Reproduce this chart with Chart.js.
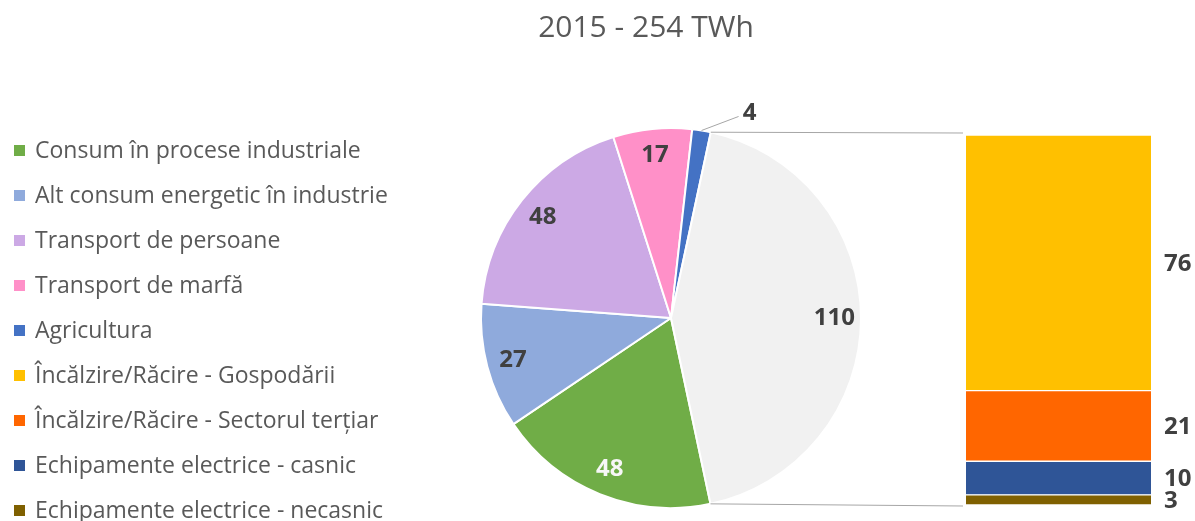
<!DOCTYPE html>
<html>
<head>
<meta charset="utf-8">
<script src="https://cdn.jsdelivr.net/npm/chart.js@4.4.0/dist/chart.umd.min.js"></script>
<style>
  html, body { margin: 0; padding: 0; background: #fff; }
  #wrap { position: relative; width: 1195px; height: 521px; overflow: hidden; font-family: "Open Sans", sans-serif; }
  .layer { position: absolute; left: 0; top: 0; width: 1195px; height: 521px; }
  #title { position: absolute; left: 446px; top: 5px; width: 400px; text-align: center; font-size: 30px; color: #595959; white-space: nowrap; }
  #legend { position: absolute; left: 14px; top: 127px; margin: 0; padding: 0; list-style: none; }
  #legend li { position: relative; height: 45px; line-height: 45px; font-size: 23px; color: #595959; white-space: nowrap; padding-left: 21px; }
  #legend li span { position: absolute; left: 0; top: 18px; width: 11px; height: 11px; }
</style>
</head>
<body>
<div id="wrap">
  <div class="layer"><canvas id="pieChart"></canvas></div>
  <div class="layer"><canvas id="barChart"></canvas></div>
  <div id="title">2015 - 254 TWh</div>
  <ul id="legend"></ul>
</div>
<script>
// pie part
const pieLabels = [
  'Consum în procese industriale',
  'Alt consum energetic în industrie',
  'Transport de persoane',
  'Transport de marfă',
  'Agricultura'
];
const pieValues = [48, 27, 48, 17, 4];
const pieColors = ['#70AD47', '#8FAADC', '#CCA9E5', '#FF90C8', '#4472C4'];

// bar part (split of the grey slice)
const barLabels = [
  'Încălzire/Răcire - Gospodării',
  'Încălzire/Răcire - Sectorul terțiar',
  'Echipamente electrice - casnic',
  'Echipamente electrice - necasnic'
];
const barValues = [76, 21, 10, 3];
const barColors = ['#FFC000', '#FF6600', '#2F5597', '#7F6000'];

const otherColor = '#F1F1F1';
const otherTotal = barValues.reduce((a, b) => a + b, 0);

// legend (html)
const legend = document.getElementById('legend');
pieLabels.concat(barLabels).forEach((lbl, i) => {
  const li = document.createElement('li');
  const sw = document.createElement('span');
  sw.style.background = pieColors.concat(barColors)[i];
  li.appendChild(sw);
  li.appendChild(document.createTextNode(lbl));
  legend.appendChild(li);
});

const labelFont = 'bold 24px "Open Sans"';
const labelDark = '#404040';
const lineColor = '#A6A6A6';

const pieLabelPlugin = {
  id: 'pieLabels',
  afterDatasetsDraw(chart) {
    const ctx = chart.ctx;
    const arcs = chart.getDatasetMeta(0).data;
    const vals = chart.data.datasets[0].data;
    ctx.save();
    ctx.font = labelFont;
    ctx.textAlign = 'center';
    ctx.textBaseline = 'middle';
    arcs.forEach((arc, i) => {
      const mid = (arc.startAngle + arc.endAngle) / 2;
      const v = vals[i];
      if (v < 10) {
        // small slice: label outside with leader line
        const x0 = arc.x + Math.cos(mid) * arc.outerRadius;
        const y0 = arc.y + Math.sin(mid) * arc.outerRadius;
        ctx.strokeStyle = lineColor;
        ctx.lineWidth = 1;
        ctx.beginPath();
        ctx.moveTo(x0, y0);
        ctx.lineTo(x0 + 37, y0 - 14);
        ctx.stroke();
        ctx.fillStyle = labelDark;
        ctx.fillText(String(v), x0 + 48, y0 - 17);
      } else {
        const r = arc.outerRadius * 0.86;
        ctx.fillStyle = i === 0 ? '#F7F7F7' : labelDark;
        ctx.fillText(String(v), arc.x + Math.cos(mid) * r, arc.y + Math.sin(mid) * r);
      }
    });
    ctx.restore();
  }
};

const pieChart = new Chart(document.getElementById('pieChart'), {
  type: 'pie',
  data: {
    labels: pieLabels.concat(['Altele']),
    datasets: [{
      data: pieValues.concat([otherTotal]),
      backgroundColor: pieColors.concat([otherColor]),
      borderColor: '#ffffff',
      borderWidth: 2
    }]
  },
  options: {
    responsive: true,
    maintainAspectRatio: false,
    animation: false,
    rotation: 168,
    layout: { padding: { left: 480, right: 333, top: 127, bottom: 12 } },
    plugins: { legend: { display: false }, tooltip: { enabled: false } }
  },
  plugins: [pieLabelPlugin]
});

const barPlugin = {
  id: 'barExtras',
  afterDatasetsDraw(chart) {
    const ctx = chart.ctx;
    ctx.save();
    // values to the right of each segment
    ctx.font = labelFont;
    ctx.textAlign = 'left';
    ctx.textBaseline = 'middle';
    ctx.fillStyle = labelDark;
    let top = null, bottom = null, left = null;
    chart.data.datasets.forEach((ds, di) => {
      const bar = chart.getDatasetMeta(di).data[0];
      const mid = (bar.y + bar.base) / 2;
      ctx.fillText(String(ds.data[0]), bar.x + bar.width / 2 + 13, mid + 1);
      left = bar.x - bar.width / 2;
      top = top === null ? bar.y : Math.min(top, bar.y);
      bottom = bottom === null ? bar.base : Math.max(bottom, bar.base);
    });
    // connectors from the grey slice to the bar
    const other = pieChart.getDatasetMeta(0).data[pieValues.length];
    const R = other.outerRadius;
    ctx.strokeStyle = lineColor;
    ctx.lineWidth = 1;
    ctx.beginPath();
    ctx.moveTo(other.x + Math.cos(other.startAngle) * R, other.y + Math.sin(other.startAngle) * R);
    ctx.lineTo(left - 3, top - 2);
    ctx.moveTo(other.x + Math.cos(other.endAngle) * R, other.y + Math.sin(other.endAngle) * R);
    ctx.lineTo(left - 3, bottom + 1);
    ctx.stroke();
    ctx.restore();
  }
};

// bottom of the stack first
const barOrder = barValues.map((v, i) => i).reverse();
new Chart(document.getElementById('barChart'), {
  type: 'bar',
  data: {
    labels: ['2015'],
    datasets: barOrder.map(i => ({
      label: barLabels[i],
      data: [barValues[i]],
      backgroundColor: barColors[i],
      borderColor: '#ffffff',
      borderWidth: { top: 1, bottom: 1, left: 0, right: 0 },
      borderSkipped: false,
      barPercentage: 1,
      categoryPercentage: 1
    }))
  },
  options: {
    responsive: true,
    maintainAspectRatio: false,
    animation: false,
    layout: { padding: { left: 966, right: 44, top: 135, bottom: 16 } },
    scales: {
      x: { display: false, stacked: true },
      y: { display: false, stacked: true, min: 0, max: otherTotal }
    },
    plugins: { legend: { display: false }, tooltip: { enabled: false } }
  },
  plugins: [barPlugin]
});
</script>
</body>
</html>
